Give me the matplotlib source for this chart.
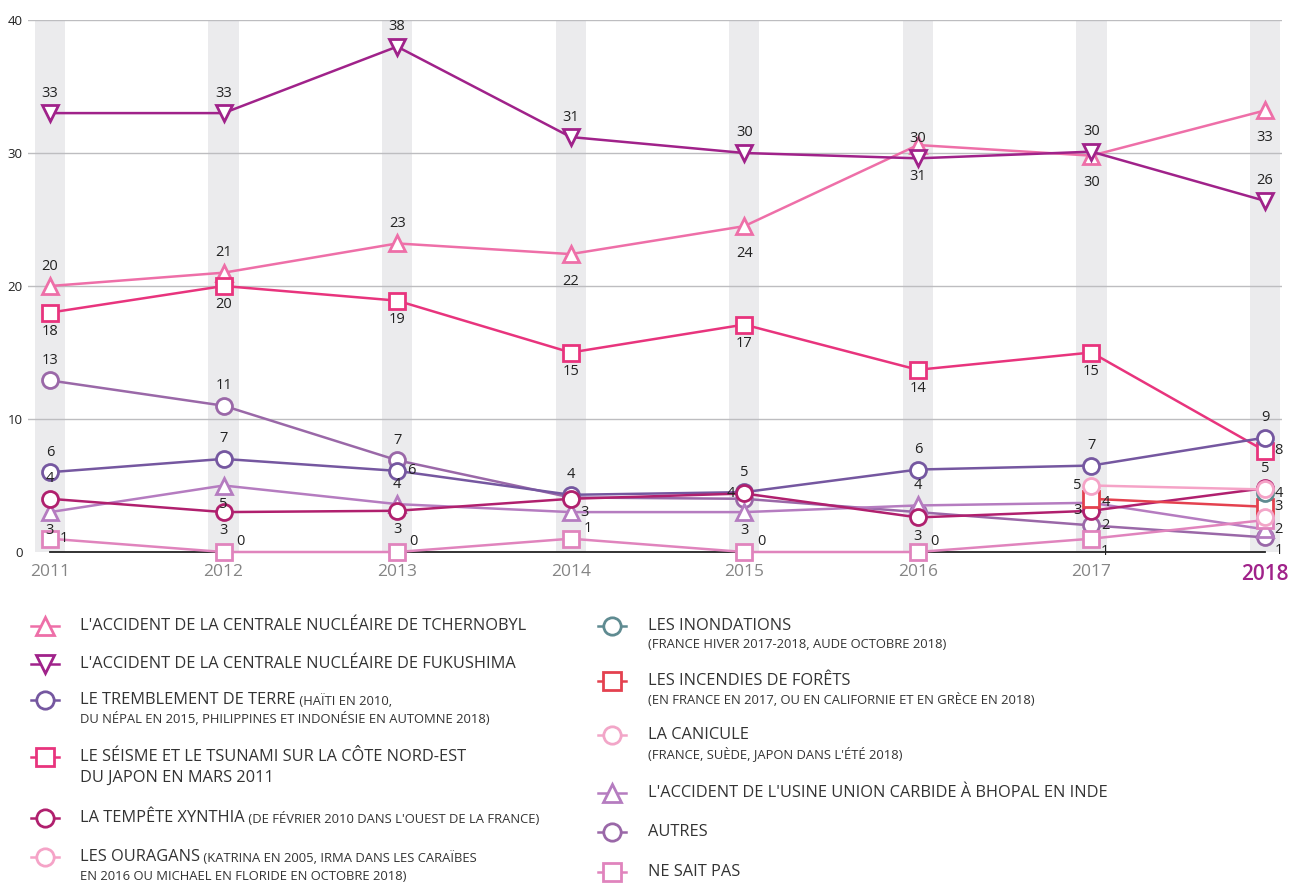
import matplotlib.pyplot as plt
from matplotlib.lines import Line2D

plt.rcParams['font.family'] = ['Open Sans', 'DejaVu Sans']

years = [2011, 2012, 2013, 2014, 2015, 2016, 2017, 2018]

# valeurs (en %)
tchernobyl = [20, 21, 23.2, 22.4, 24.5, 30.6, 29.8, 33.2]
fukushima = [33, 33, 38, 31.2, 30, 29.6, 30.1, 26.4]
tremblement = [6, 7, 6.1, 4.3, 4.5, 6.2, 6.5, 8.6]
seisme = [18, 20, 18.9, 15, 17.1, 13.7, 15, 7.6]
xynthia = [4, 3, 3.1, 4.0, 4.4, 2.6, 3.1, 4.8]
ouragans = [None, None, None, None, None, None, 5.0, 4.7]
inondations = [None, None, None, None, None, None, None, 4.4]
incendies = [None, None, None, None, None, None, 4.0, 3.4]
canicule = [None, None, None, None, None, None, None, 2.6]
bhopal = [3, 5, 3.6, 3, 3, 3.5, 3.7, 1.7]
autres = [12.9, 11, 6.9, 4.1, 4.0, 3.0, 2.0, 1.1]
nsp = [1, 0, 0, 1, 0, 0, 1, 2.4]

# étiquettes affichées
lab_tchernobyl = ['20', '21', '23', '22', '24', '30', '30', '33']
lab_fukushima = ['33', '33', '38', '31', '30', '31', '30', '26']
lab_tremblement = ['6', '7', '6', '4', '5', '6', '7', '9']
lab_seisme = ['18', '20', '19', '15', '17', '14', '15', '8']
lab_xynthia = ['4', '3', '3', None, '4', '3', '3', '5']
lab_ouragans = [None, None, None, None, None, None, '5', None]
lab_inondations = [None, None, None, None, None, None, None, '4']
lab_incendies = [None, None, None, None, None, None, None, '3']
lab_canicule = [None] * 8
lab_bhopal = ['3', '5', '4', '3', '3', '4', '4', '2']
lab_autres = ['13', '11', '7', None, None, None, '2', '1']
lab_nsp = ['1', '0', '0', '1', '0', '0', '1', None]

# position des étiquettes : a=dessus, b=dessous, B=loin dessous, r=droite,
# l=gauche, u=haut-droite, d=bas-droite, n=juste au-dessus
pos_tchernobyl = 'aaaBBnBB'
pos_fukushima = 'aaaaabaa'
pos_tremblement = 'aaraaaaa'
pos_seisme = 'bbbbbbbr'
pos_xynthia = 'abbxlbla'
pos_ouragans = 'xxxxxxlx'
pos_inondations = 'xxxxxxxr'
pos_incendies = 'xxxxxxxr'
pos_canicule = 'xxxxxxxx'
pos_bhopal = 'bbarbarr'
pos_autres = 'aaaxxxrd'
pos_nsp = 'ruuuuudx'

series = [
    (tchernobyl, lab_tchernobyl, pos_tchernobyl, '#ee6fa8', '^'),
    (fukushima, lab_fukushima, pos_fukushima, '#a0228a', 'v'),
    (seisme, lab_seisme, pos_seisme, '#e8347d', 's'),
    (autres, lab_autres, pos_autres, '#9a68a8', 'o'),
    (tremblement, lab_tremblement, pos_tremblement, '#7557a0', 'o'),
    (bhopal, lab_bhopal, pos_bhopal, '#b57cc0', '^'),
    (xynthia, lab_xynthia, pos_xynthia, '#b0206e', 'o'),
    (nsp, lab_nsp, pos_nsp, '#e084bd', 's'),
    (incendies, lab_incendies, pos_incendies, '#e4414f', 's'),
    (canicule, lab_canicule, pos_canicule, '#f2a6c8', 'o'),
    (inondations, lab_inondations, pos_inondations, '#5f8b91', 'o'),
    (ouragans, lab_ouragans, pos_ouragans, '#f5a3c7', 'o'),
]

offsets = {'a': (0, 9, 'center', 'bottom'), 'b': (0, -8, 'center', 'top'),
           'B': (0, -14, 'center', 'top'),
           'r': (7, 0, 'left', 'center'), 'l': (-7, 0, 'right', 'center'),
           'u': (9, 2, 'left', 'bottom'), 'd': (7, -4, 'left', 'top'),
           'n': (0, 5, 'center', 'center')}

fig = plt.figure(figsize=(12.93, 8.83), dpi=100)
W, H = 1293, 883
ax = fig.add_axes([28 / W, 1 - 552 / H, (1282 - 28) / W, (552 - 20) / H])

step = (1265 - 50) / 7
ax.set_xlim(2011 - 22 / step, 2018 + 17 / step)
ax.set_ylim(0, 40)

for y in years:
    ax.axvspan(y - 0.087, y + 0.087, color='#ebebed', zorder=0, lw=0)
for g in [10, 20, 30, 40]:
    ax.axhline(g, color='#bdbdc0', lw=1, zorder=1)
ax.plot([2011, 2018], [0, 0], color='#222222', lw=1.3, zorder=2, clip_on=False)

for vals, labs, pos, col, mk in series:
    xs = [x for x, v in zip(years, vals) if v is not None]
    vs = [v for v in vals if v is not None]
    ax.plot(xs, vs, color=col, lw=1.8, marker=mk, markersize=11.5,
            markerfacecolor='white', markeredgecolor=col, markeredgewidth=2,
            zorder=3, clip_on=False)
    for x, v, lab, p in zip(years, vals, labs, pos):
        if lab is None or v is None:
            continue
        dx, dy, ha, va = offsets[p]
        ax.annotate(lab, (x, v), xytext=(dx, dy), textcoords='offset points',
                    ha=ha, va=va, fontsize=10.5, color='#222222', zorder=5)

for s in ax.spines.values():
    s.set_visible(False)
ax.set_yticks([0, 10, 20, 30, 40])
ax.set_yticklabels(['0', '10', '20', '30', '40'], fontsize=9.5, color='#222222')
ax.tick_params(axis='y', length=0, pad=4)
ax.set_xticks(years)
ax.set_xticklabels([str(y) for y in years], fontsize=12.5, color='#858585')
ax.tick_params(axis='x', length=0, pad=9)
lbl = ax.get_xticklabels()[-1]
lbl.set_color('#a0228a')
lbl.set_fontsize(15)
lbl.set_fontweight('semibold')

# légende
legend_left = [
    ('#ee6fa8', '^', "L'ACCIDENT DE LA CENTRALE NUCLÉAIRE DE TCHERNOBYL", None, 626),
    ('#a0228a', 'v', "L'ACCIDENT DE LA CENTRALE NUCLÉAIRE DE FUKUSHIMA", None, 664),
    ('#7557a0', 'o', "LE TREMBLEMENT DE TERRE", "DU NÉPAL EN 2015, PHILIPPINES ET INDONÉSIE EN AUTOMNE 2018)", 700),
    ('#e8347d', 's', "LE SÉISME ET LE TSUNAMI SUR LA CÔTE NORD-EST", None, 757),
    ('#b0206e', 'o', "LA TEMPÊTE XYNTHIA", None, 818),
    ('#f5a3c7', 'o', "LES OURAGANS", "EN 2016 OU MICHAEL EN FLORIDE EN OCTOBRE 2018)", 857),
]
legend_right = [
    ('#5f8b91', 'o', "LES INONDATIONS", "(FRANCE HIVER 2017-2018, AUDE OCTOBRE 2018)", 626),
    ('#e4414f', 's', "LES INCENDIES DE FORÊTS", "(EN FRANCE EN 2017, OU EN CALIFORNIE ET EN GRÈCE EN 2018)", 681),
    ('#f2a6c8', 'o', "LA CANICULE", "(FRANCE, SUÈDE, JAPON DANS L'ÉTÉ 2018)", 735),
    ('#b57cc0', '^', "L'ACCIDENT DE L'USINE UNION CARBIDE À BHOPAL EN INDE", None, 793),
    ('#9a68a8', 'o', "AUTRES", None, 832),
    ('#e084bd', 's', "NE SAIT PAS", None, 872),
]
inline_small = {
    "LE TREMBLEMENT DE TERRE": " (HAÏTI EN 2010,",
    "LA TEMPÊTE XYNTHIA": " (DE FÉVRIER 2010 DANS L'OUEST DE LA FRANCE)",
    "LES OURAGANS": " (KATRINA EN 2005, IRMA DANS LES CARAÏBES",
}

lax = fig.add_axes([0, 0, 1, 1])
lax.set_xlim(0, W)
lax.set_ylim(H, 0)
lax.axis('off')

MAIN_FS = 11.8
SUB_FS = 9.4


def draw_legend(items, mx, tx):
    r = fig.canvas.get_renderer()
    for col, mk, main, sub, y in items:
        lax.add_line(Line2D([mx - 14, mx + 14], [y, y], color=col, lw=1.8))
        lax.plot(mx, y, marker=mk, markersize=12.5, markerfacecolor='white',
                 markeredgecolor=col, markeredgewidth=2)
        t = lax.text(tx, y, main, fontsize=MAIN_FS, color='#333333', va='center')
        if main in inline_small:
            bb = t.get_window_extent(r)
            lax.text(bb.x1, y + 1, inline_small[main], fontsize=SUB_FS,
                     color='#333333', va='center')
        if sub is not None:
            lax.text(tx, y + 19, sub, fontsize=SUB_FS, color='#333333', va='center')


draw_legend(legend_left, 45, 80)
draw_legend(legend_right, 612, 648)
lax.text(80, 778, "DU JAPON EN MARS 2011", fontsize=MAIN_FS, color='#333333', va='center')

fig.savefig('out.png', dpi=100)
